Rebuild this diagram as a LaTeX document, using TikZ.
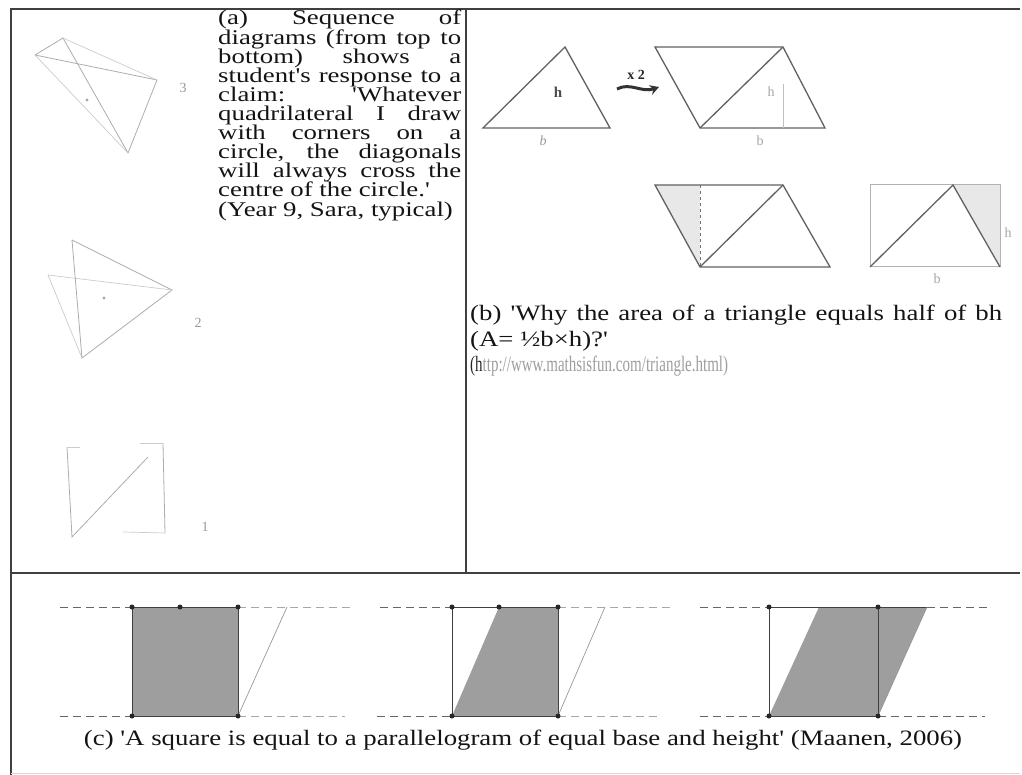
\documentclass[tikz,border=0pt]{standalone}
\usepackage{fontspec}
\usepackage{graphicx}
\newfontfamily\tnr{Liberation Serif}
\usetikzlibrary{arrows.meta}
\newcommand\sq[1]{\scalebox{1}[0.82]{#1}}
\newcommand\sqa[1]{\scalebox{1}[0.78]{#1}}
\newcommand\jl[1]{\hbox to \hsize{#1}}
\begin{document}
\begin{tikzpicture}[x=1pt,y=-1pt,
  border/.style={draw=black!75, line width=1.6pt},
  sketchd/.style={draw=black!32, line width=0.8pt},
  sketchl/.style={draw=black!20, line width=0.7pt},
  fig/.style={draw=black!62, line width=1.3pt},
  figl/.style={draw=black!30, line width=1pt},
  shade/.style={fill=black!9},
  sqfill/.style={fill=black!38},
  guide/.style={draw=black!60, dash pattern=on 8pt off 5pt, line width=0.9pt},
  guidel/.style={draw=black!35, dash pattern=on 8pt off 5pt, line width=0.8pt},
  outl/.style={draw=black!75, line width=1pt},
  faint/.style={draw=black!40, line width=0.7pt},
  dot/.style={circle, fill=black!85, inner sep=0pt, minimum size=5pt},
  txt/.style={inner sep=0pt, font=\tnr\fontsize{26.8pt}{30pt}\selectfont, text=black!92},
  lbl/.style={inner sep=0pt, font=\tnr\fontsize{14pt}{14pt}\selectfont, text=black!40}]

\useasboundingbox (0,0) rectangle (1022,775);
\fill[white] (0,0) rectangle (1022,775);

% ---------- table ----------
\coordinate (TL) at (11,9);
\coordinate (TR) at (1020,9);
\coordinate (BL) at (11,775);
\coordinate (MT) at (466,9);
\coordinate (MB) at (466,573);
\coordinate (HL) at (11,573);
\coordinate (HR) at (1020,573);
\coordinate (BBL) at (11,773);
\coordinate (BBR) at (1020,773);
\draw[border] (TR) -- (TL) -- (BL);
\draw[border] (MT) -- (MB);
\draw[border] (HL) -- (HR);
\draw[black!15, line width=0.8pt] (BBL) -- (BBR);

% ---------- panel (a) sketches ----------
\coordinate (a1) at (63,38);
\coordinate (a2) at (35,55);
\coordinate (a3) at (157,80);
\coordinate (a4) at (128,153);
\draw[sketchd] (a2) -- (a1) -- (a4) -- (a3) -- (a2);
\draw[sketchl] (a1) -- (a3);
\draw[sketchl] (a2) -- (a4);
\fill[black!35] (87,100) circle (1.6pt);
\node[lbl] (n3) at (183,88) {3};

\coordinate (b1) at (72,240);
\coordinate (b2) at (48,275);
\coordinate (b3) at (172,290);
\coordinate (b4) at (82,358);
\draw[sketchd] (b1) -- (b3) -- (b4);
\draw[sketchl] (b2) -- (b3);
\draw[sketchl] (b2) -- (b4);
\draw[sketchd] (b1) -- (b4);
\fill[black!35] (104,298) circle (1.6pt);
\node[lbl] (n2) at (198,323) {2};

\coordinate (c1) at (67,447);
\coordinate (c1t) at (80,447);
\coordinate (c2) at (72,537);
\coordinate (c3) at (148,457);
\coordinate (c4) at (163,443);
\coordinate (c4t) at (140,443);
\coordinate (c5) at (165,533);
\coordinate (c5t) at (123,532);
\draw[sketchd] (c1) -- (c2) -- (c3);
\draw[sketchd] (c4) -- (c5);
\draw[sketchl] (c1) -- (c1t);
\draw[sketchl] (c4t) -- (c4);
\draw[sketchl] (c5t) -- (c5);
\node[lbl] (n1) at (205,527) {1};

% ---------- panel (a) text ----------
\node[txt, anchor=base west] (ta) at (218,25) {\sqa{\parbox[t]{243pt}{\fontsize{26.8pt}{24.5pt}\selectfont\lineskiplimit=-100pt\lineskip=0pt
\jl{(a) Sequence of}
\jl{diagrams (from top to}
\jl{bottom) shows a}
\jl{student's response to a}
\jl{claim: 'Whatever}
\jl{quadrilateral I draw}
\jl{with corners on a}
\jl{circle, the diagonals}
\jl{will always cross the}
\hbox{centre of the circle.'}
\hbox{(Year 9, Sara, typical)}}}};

% ---------- panel (b) figures ----------
\coordinate (t1) at (565,47);
\coordinate (t2) at (483,128);
\coordinate (t3) at (610,128);
\draw[fig] (t2) -- (t1) -- (t3) -- cycle;
\node[lbl, text=black!70, font=\tnr\bfseries\fontsize{15pt}{15pt}\selectfont] (th) at (558,92) {h};
\node[lbl, font=\tnr\itshape\fontsize{14pt}{14pt}\selectfont] (tb) at (543,141) {b};

\coordinate (ar1) at (617,89);
\coordinate (ar2) at (659,87);
\draw[black!80, line width=3pt, -{Stealth[length=9pt,width=10pt]}] (ar1) .. controls (630,82) and (642,93) .. (ar2);
\node[lbl, text=black!85, font=\tnr\bfseries\fontsize{14pt}{14pt}\selectfont] (x2) at (636,75) {x 2};

\coordinate (p1) at (655,47);
\coordinate (p2) at (783,47);
\coordinate (p3) at (825,128);
\coordinate (p4) at (700,128);
\coordinate (ph) at (783,84);
\coordinate (pf) at (783,128);
\draw[fig] (p1) -- (p2) -- (p3) -- (p4) -- cycle;
\draw[fig] (p4) -- (p2);
\draw[black!25, line width=0.7pt] (ph) -- (pf);
\node[lbl, text=black!35] (ph2) at (771,92) {h};
\node[lbl, text=black!35] (pb) at (760,141) {b};

\coordinate (q1) at (655,185);
\coordinate (q2) at (783,185);
\coordinate (q3) at (830,267);
\coordinate (q4) at (700,267);
\coordinate (qm) at (700,185);
\fill[shade] (q1) -- (qm) -- (q4) -- cycle;
\draw[fig] (q1) -- (q2) -- (q3) -- (q4) -- cycle;
\draw[fig] (q4) -- (q2);
\draw[black!55, dashed, line width=0.8pt] (qm) -- (q4);

\coordinate (r1) at (870,185);
\coordinate (r2) at (1000,185);
\coordinate (r3) at (1000,267);
\coordinate (r4) at (870,267);
\coordinate (ra) at (953,185);
\fill[shade] (ra) -- (r2) -- (r3) -- cycle;
\draw[figl] (r1) -- (r2) -- (r3) -- (r4) -- cycle;
\draw[fig] (r4) -- (ra) -- (r3);
\node[lbl, text=black!35] (rh) at (1008,233) {h};
\node[lbl, text=black!35] (rb) at (937,279) {b};

% ---------- panel (b) text ----------
\node[txt, anchor=base west] (tb1) at (470,321) {\sq{\parbox[t]{532pt}{\fontsize{26.8pt}{31pt}\selectfont\lineskiplimit=-100pt\lineskip=0pt
\jl{(b) 'Why the area of a triangle equals half of bh}
\hbox{(A=\ ½b×h)?'}
\hbox{\scalebox{0.56}[1]{\textcolor{black!85}{(h}\textcolor{black!38}{ttp://www.mathsisfun.com/triangle.html)}}}}}};

% ---------- panel (c) ----------
% square 1
\coordinate (s1a) at (132,607);
\coordinate (s1m) at (180,607);
\coordinate (s1b) at (238,607);
\coordinate (s1c) at (238,716);
\coordinate (s1d) at (132,716);
\coordinate (s1p) at (287,607);
\fill[sqfill] (s1a) rectangle (s1c);
\draw[outl] (s1a) rectangle (s1c);
\draw[faint] (s1c) -- (s1p);
\draw[guide] (60,607) -- (s1a);
\draw[guidel] (s1b) -- (350,607);
\draw[guide] (60,716) -- (s1d);
\draw[guidel] (s1c) -- (345,716);
\foreach \p in {s1a,s1m,s1b,s1c,s1d} \node[dot] at (\p) {};

% square 2
\coordinate (s2a) at (452,607);
\coordinate (s2m) at (499,607);
\coordinate (s2b) at (558,607);
\coordinate (s2c) at (558,716);
\coordinate (s2d) at (452,716);
\coordinate (s2p) at (605,607);
\fill[sqfill] (s2d) -- (s2m) -- (s2b) -- (s2c) -- cycle;
\draw[outl] (s2a) rectangle (s2c);
\draw[faint] (s2c) -- (s2p);
\draw[guide] (380,607) -- (s2a);
\draw[guidel] (s2b) -- (673,607);
\draw[guide] (377,716) -- (s2d);
\draw[guidel] (s2c) -- (662,716);
\foreach \p in {s2a,s2m,s2b,s2c,s2d} \node[dot] at (\p) {};

% square 3
\coordinate (s3a) at (769,607);
\coordinate (s3m) at (819,607);
\coordinate (s3b) at (878,607);
\coordinate (s3c) at (878,716);
\coordinate (s3d) at (769,716);
\coordinate (s3p) at (927,607);
\fill[sqfill] (s3d) -- (s3m) -- (s3p) -- (s3c) -- cycle;
\draw[outl] (s3a) rectangle (s3c);
\draw[outl] (s3b) -- (s3p);
\draw[faint] (s3c) -- (s3p);
\draw[guide] (700,607) -- (s3a);
\draw[guide] (s3p) -- (987,607);
\draw[guide] (700,716) -- (s3d);
\draw[guide] (s3c) -- (985,716);
\foreach \p in {s3a,s3b,s3c,s3d} \node[dot] at (\p) {};

\node[txt, anchor=base] (tc) at (523,745) {\sq{(c) 'A square is equal to a parallelogram of equal base and height' (Maanen, 2006)}};
\end{tikzpicture}
\end{document}
